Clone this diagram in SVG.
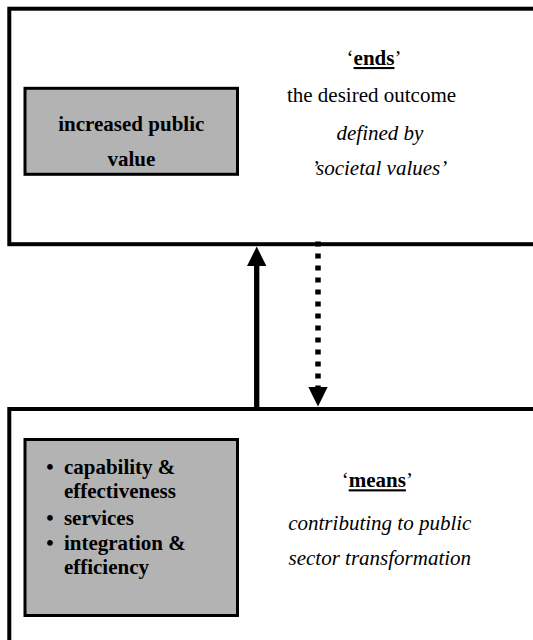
<svg xmlns="http://www.w3.org/2000/svg" width="533" height="640" viewBox="0 0 533 640">
  <style>
    .frame { fill: #ffffff; stroke: #000000; stroke-width: 4; }
    .box { fill: #b3b3b3; stroke: #000000; stroke-width: 3; }
    text { font-family: "Liberation Serif", "Times New Roman", serif; font-size: 21px; fill: #000000; }
    .c { text-anchor: middle; }
    .b { font-weight: bold; }
    .i { font-style: italic; }
    .u { text-decoration: underline; }
    .dot { text-anchor: middle; font-weight: bold; }
    .link { fill: none; stroke: #000000; }
  </style>
  <defs>
    <marker id="head" viewBox="0 0 20 20" refX="0" refY="10" markerWidth="20" markerHeight="19.4" markerUnits="userSpaceOnUse" orient="auto">
      <path d="M0,0 L20,10 L0,20 Z" fill="#000000"/>
    </marker>
  </defs>

  <rect width="533" height="640" fill="#ffffff"/>

  <!-- upper frame: the ends -->
  <g id="ends">
    <rect class="frame" x="9.3" y="8.7" width="600" height="235.5"/>
    <text class="c" x="374" y="65"><tspan>‘</tspan><tspan class="b u">ends</tspan><tspan>’</tspan></text>
    <text class="c" x="371.5" y="101.5">the desired outcome</text>
    <text class="c i" x="380" y="140">defined by</text>
    <text class="c i" x="379.5" y="175">’societal values’</text>
  </g>

  <g id="public-value">
    <rect class="box" x="25" y="88.3" width="212.5" height="86"/>
    <text class="c b" x="131.3" y="130.8">increased public</text>
    <text class="c b" x="131.3" y="165.8">value</text>
  </g>

  <!-- lower frame: the means -->
  <g id="means">
    <rect class="frame" x="9.3" y="409" width="600" height="300"/>
    <text class="c" x="377.3" y="487.3"><tspan>‘</tspan><tspan class="b u">means</tspan><tspan>’</tspan></text>
    <text class="c i" x="379.8" y="529.8">contributing to public</text>
    <text class="c i" x="379.8" y="565.4">sector transformation</text>
  </g>

  <g id="drivers">
    <rect class="box" x="25" y="439.5" width="212.5" height="176"/>
    <text class="dot" x="50" y="473.7">•</text>
    <text class="b" x="63.9" y="473.7">capability &amp;</text>
    <text class="b" x="63.9" y="497.5">effectiveness</text>
    <text class="dot" x="50" y="524.7">•</text>
    <text class="b" x="63.9" y="524.7">services</text>
    <text class="dot" x="50" y="550.1">•</text>
    <text class="b" x="63.9" y="550.1">integration &amp;</text>
    <text class="b" x="63.9" y="574">efficiency</text>
  </g>

  <!-- connectors -->
  <g id="connectors">
    <line class="link" x1="256.7" y1="409" x2="256.7" y2="266" stroke-width="5.3" marker-end="url(#head)"/>
    <line class="link" x1="318" y1="241.5" x2="318" y2="387" stroke-width="5.5" stroke-dasharray="5 7" marker-end="url(#head)"/>
  </g>
</svg>
